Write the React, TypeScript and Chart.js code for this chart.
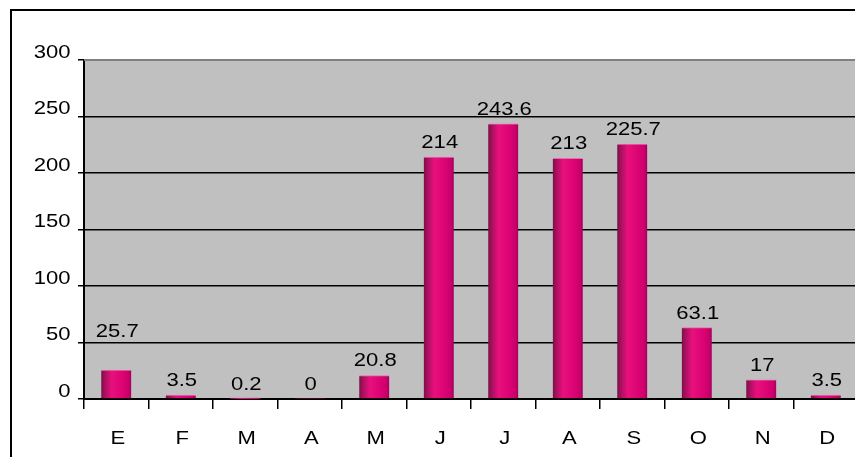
import React, { useEffect, useRef } from "react";
import { Chart, registerables } from "chart.js";

Chart.register(...registerables);

const months = ["E", "F", "M", "A", "M", "J", "J", "A", "S", "O", "N", "D"];
const rainfall = [25.7, 3.5, 0.2, 0, 20.8, 214, 243.6, 213, 225.7, 63.1, 17, 3.5];
const valueLabels = ["25.7", "3.5", "0.2", "0", "20.8", "214", "243.6", "213", "225.7", "63.1", "17", "3.5"];
const yMin = 0;
const yMax = 300;
const yStep = 50;

const FONT = "'Liberation Sans', Arial, sans-serif";
const FONT_SIZE = 17.5;
const STRETCH = 1.26;

function stretchedText(ctx: any, text: string, x: number, y: number, align: "left" | "center" | "right") {
  ctx.save();
  ctx.translate(x, y);
  ctx.scale(STRETCH, 1);
  ctx.textAlign = align;
  ctx.textBaseline = "middle";
  ctx.fillText(text, 0, 0);
  ctx.restore();
}

const framePlugin = {
  id: "frame",
  beforeDraw(chart: any) {
    const { ctx, chartArea } = chart;
    ctx.save();
    ctx.fillStyle = "#ffffff";
    ctx.fillRect(0, 0, chart.width, chart.height);
    ctx.strokeStyle = "#000000";
    ctx.lineWidth = 2;
    ctx.beginPath();
    ctx.moveTo(11, chart.height + 2);
    ctx.lineTo(11, 10);
    ctx.lineTo(chart.width + 2, 10);
    ctx.stroke();
    ctx.fillStyle = "#c0c0c0";
    ctx.fillRect(chartArea.left, chartArea.top, chartArea.right - chartArea.left, chartArea.bottom - chartArea.top);
    ctx.restore();
  },
  beforeDatasetsDraw(chart: any) {
    const meta = chart.getDatasetMeta(0);
    const ctx = chart.ctx;
    meta.data.forEach((bar: any) => {
      const half = bar.width / 2;
      if (!Number.isFinite(bar.x) || !Number.isFinite(half)) return;
      const g = ctx.createLinearGradient(bar.x - half, 0, bar.x + half, 0);
      g.addColorStop(0, "#7a1048");
      g.addColorStop(0.12, "#a8105e");
      g.addColorStop(0.35, "#e8107c");
      g.addColorStop(0.7, "#dc0474");
      g.addColorStop(0.92, "#c8006a");
      g.addColorStop(1, "#a0005a");
      bar.options = Object.assign({}, bar.options, { backgroundColor: g });
    });
  },
  afterDatasetsDraw(chart: any) {
    const { ctx, chartArea } = chart;
    ctx.save();
    ctx.strokeStyle = "#808080";
    ctx.lineWidth = 2;
    ctx.beginPath();
    ctx.moveTo(chartArea.left, chartArea.top);
    ctx.lineTo(chartArea.right, chartArea.top);
    ctx.lineTo(chartArea.right, chartArea.bottom);
    ctx.stroke();

    ctx.fillStyle = "#000000";
    ctx.font = `${FONT_SIZE}px ${FONT}`;

    const meta = chart.getDatasetMeta(0);
    meta.data.forEach((bar: any, i: number) => {
      const lift = i === 0 ? 38 : 14;
      stretchedText(ctx, valueLabels[i], bar.x + 1, bar.y - lift, "center");
    });

    const ys = chart.scales.y;
    ys.ticks.forEach((t: any) => {
      stretchedText(ctx, String(t.value), 70.5, ys.getPixelForValue(t.value) - 7, "right");
    });

    const xs = chart.scales.x;
    months.forEach((m, i) => {
      stretchedText(ctx, m, xs.getPixelForValue(i) + 1.5, 439, "center");
    });
    ctx.restore();
  },
};

export default function App() {
  const ref = useRef<HTMLCanvasElement | null>(null);
  useEffect(() => {
    if (!ref.current) return;
    const chart = new Chart(ref.current, {
      type: "bar",
      data: {
        labels: months,
        datasets: [
          {
            data: rainfall,
            barThickness: 30,
            borderWidth: { top: 1, left: 0, right: 0, bottom: 0 },
            borderColor: "#e070a8",
            borderSkipped: "bottom",
            backgroundColor: "#e0087a",
          },
        ],
      },
      options: {
        responsive: false,
        animation: false,
        devicePixelRatio: 1,
        layout: { padding: { left: 24, top: 60, right: 5, bottom: 16 } },
        plugins: { legend: { display: false }, tooltip: { enabled: false } },
        scales: {
          x: {
            offset: true,
            grid: {
              offset: true,
              drawOnChartArea: false,
              drawTicks: true,
              tickLength: 10,
              color: "#000000",
              lineWidth: 1.5,
            },
            border: { display: true, color: "#000000", width: 2 },
            ticks: { display: false },
            afterFit: (s: any) => {
              s.height = 50;
            },
          },
          y: {
            min: yMin,
            max: yMax,
            grid: {
              color: (c: any) => (c.tick && c.tick.value === yMax ? "#808080" : "#000000"),
              lineWidth: 1.5,
              tickLength: 6,
              tickColor: "#000000",
            },
            border: { display: true, color: "#000000", width: 2 },
            ticks: { stepSize: yStep, display: false },
            afterFit: (s: any) => {
              s.width = 60;
            },
          },
        },
      },
      plugins: [framePlugin],
    });
    return () => chart.destroy();
  }, []);
  return (
    <div style={{ margin: -8, width: 863, height: 465, overflow: "hidden" }}>
      <canvas ref={ref} width={863} height={465} style={{ display: "block" }} />
    </div>
  );
}
